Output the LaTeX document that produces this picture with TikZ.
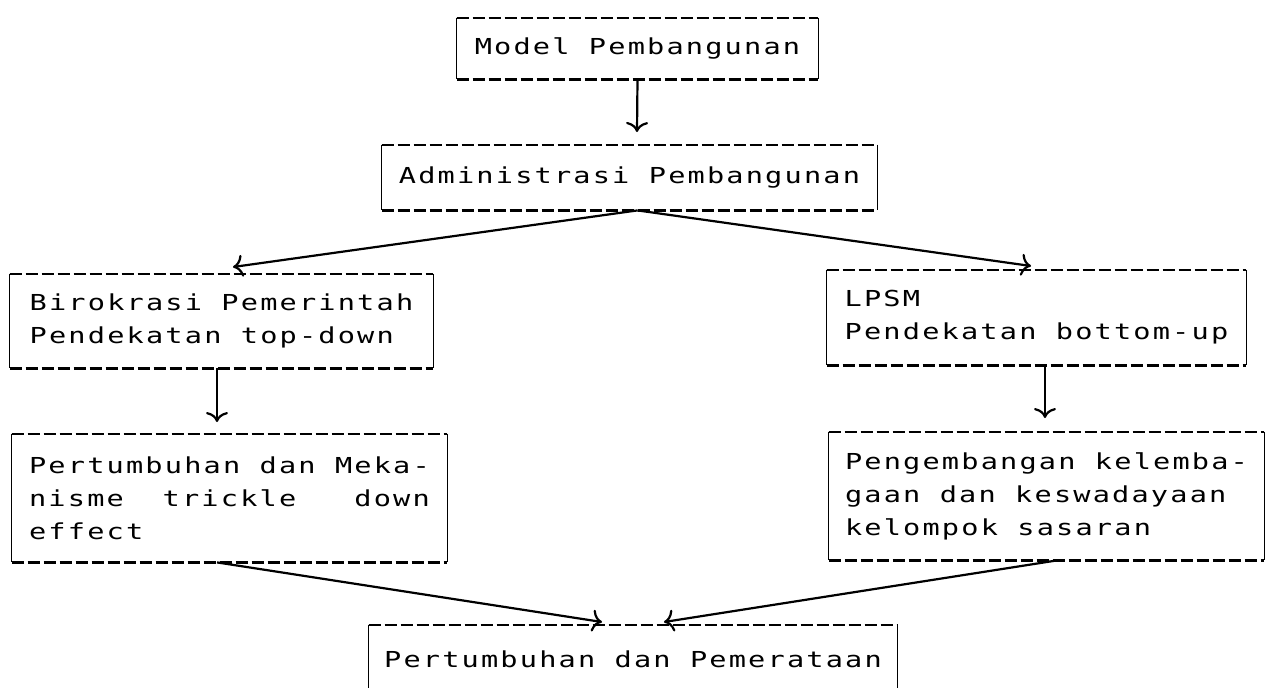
\documentclass[tikz,border=0pt]{standalone}
\usepackage{fontspec}
\newfontfamily\dotfont[FakeStretch=1.3,LetterSpace=9.9]{DejaVu Sans Mono}
\usetikzlibrary{arrows.meta,calc}
\tikzset{
  boxn/.style={inner sep=0pt, align=left, font=\dotfont\fontsize{11}{16.5}\selectfont},
  dashln/.style={line width=1.1pt, dash pattern=on 6pt off 2pt},
  sideln/.style={line width=0.8pt},
  conn/.style={line width=1.1pt, -{Computer Modern Rightarrow[length=5pt,width=11pt]}},
}
\newcommand\dbframe[1]{%
  \draw[dashln] (#1.north west) -- (#1.north east);
  \draw[dashln] (#1.south west) -- (#1.south east);
  \draw[sideln] (#1.north west) -- (#1.south west);
  \draw[sideln] (#1.north east) -- (#1.south east);}
\begin{document}
\begin{tikzpicture}[x=0.5pt,y=-0.5pt]
\useasboundingbox (0,0) rectangle (1265,687);
\node[boxn, minimum width=361*0.5pt, minimum height=61*0.5pt] (b1) at (637.5,48.5) {Model Pembangunan};
\node[boxn, minimum width=495*0.5pt, minimum height=65*0.5pt] (b2) at (629.5,177.5) {Administrasi Pembangunan};
\node[boxn, minimum width=423*0.5pt, minimum height=94*0.5pt] (b3) at (221.5,321) {Birokrasi Pemerintah\\Pendekatan top-down};
\node[boxn, minimum width=435*0.5pt, minimum height=128*0.5pt] (b4) at (229.5,498) {Pertumbuhan dan Meka-\\nisme~~trickle~~~down\\effect};
\node[boxn, minimum width=419*0.5pt, minimum height=95*0.5pt] (b5) at (1036.5,317.5) {LPSM\\Pendekatan bottom-up};
\node[boxn, minimum width=435*0.5pt, minimum height=128*0.5pt] (b6) at (1046.5,496) {Pengembangan kelemba-\\gaan dan keswadayaan\\kelompok sasaran};
\node[boxn, minimum width=528*0.5pt, minimum height=68*0.5pt] (b7) at (633,659) {Pertumbuhan dan Pemerataan};
\dbframe{b1}\dbframe{b2}\dbframe{b3}\dbframe{b4}\dbframe{b5}\dbframe{b6}\dbframe{b7}
\coordinate (t1) at (637,132);
\coordinate (t2) at (233,267);
\coordinate (t3) at (1031,266);
\coordinate (t4) at (217,422);
\coordinate (t5) at (1045,418);
\coordinate (t6) at (602,622);
\coordinate (t7) at (664,622);
\coordinate (s2) at (b1.south |- b2.south);
\draw[conn] (b1.south) -- (t1);
\draw[conn] (s2) -- (t2);
\draw[conn] (s2) -- (t3);
\draw[conn] ($(b3.south)+(-4.5,0)$) -- (t4);
\draw[conn] ($(b5.south)+(8.5,0)$) -- (t5);
\draw[conn] ($(b4.south)+(-12.5,0)$) -- (t6);
\draw[conn] ($(b6.south)+(10.5,0)$) -- (t7);
\end{tikzpicture}
\end{document}
